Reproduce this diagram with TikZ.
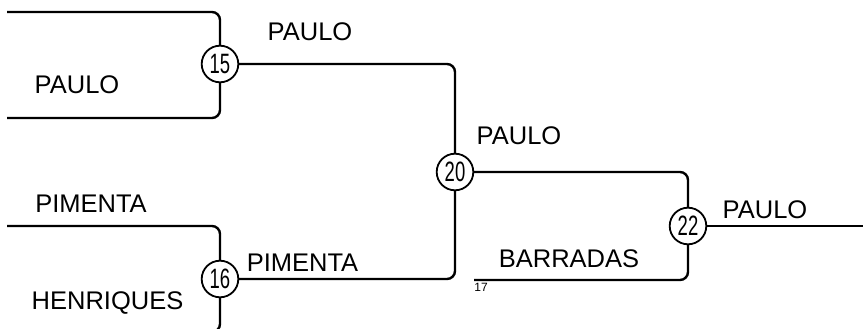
\documentclass[tikz,border=0pt]{standalone}
\usepackage{fontspec}
\setmainfont{Liberation Sans}
\usetikzlibrary{positioning}

\begin{document}
\begin{tikzpicture}[x=1pt, y=-1pt, line width=2.4pt,
  match/.style={circle, draw, line width=1.8pt, fill=white, minimum size=36.6pt,
    inner sep=0pt, font=\fontsize{28}{28}\selectfont},
  player/.style={anchor=base, inner sep=0pt, font=\fontsize{25.5}{26}\selectfont},
  wire/.style={rounded corners=8pt}]
  % page 863 x 329, y runs downwards
  \clip (0,0) rectangle (863,329);

  % ---------------- matches ----------------
  \node[match] (m15) at (220,64)  {\scalebox{0.66}[1]{15}};
  \node[match] (m16) at (220,279) {\scalebox{0.66}[1]{16}};
  \node[match] (m20) at (455,172) {\scalebox{0.66}[1]{20}};
  \node[match] (m22) at (688,226) {\scalebox{0.66}[1]{22}};

  % free ends of the bracket
  \coordinate (in1) at (7,12);
  \coordinate (in2) at (7,118);
  \coordinate (in3) at (7,226);
  \coordinate (in4) at (7,332);
  \coordinate (bye) at (474,280);
  \coordinate (win) at (863,226);

  % first round
  \draw[wire] (in1) -| (m15.north);
  \draw[wire] (in2) -| (m15.south);
  \draw[wire] (in3) -| (m16.north);
  \draw[wire] (in4) -| (m16.south);

  % later rounds
  \draw[wire] (m15.east) -| (m20.north);
  \draw[wire] (m16.east) -| (m20.south);
  \draw[wire] (m20.east) -| (m22.north);
  \draw[wire] (m22.south) |- (bye);
  \draw (m22.east) -- (win);

  % names
  \foreach \x/\y/\who [count=\i] in {310/40.5/PAULO, 77/94/PAULO, 91/212/PIMENTA,
      107.5/309.5/HENRIQUES, 302.5/271.5/PIMENTA, 519/144/PAULO,
      569/267/BARRADAS, 765/218/PAULO} {
    \node[player] (p\i) at (\x,\y) {\who};
  }
  \node[player, font=\fontsize{12}{12}\selectfont] (n17) at (481,291) {17};
\end{tikzpicture}
\end{document}
